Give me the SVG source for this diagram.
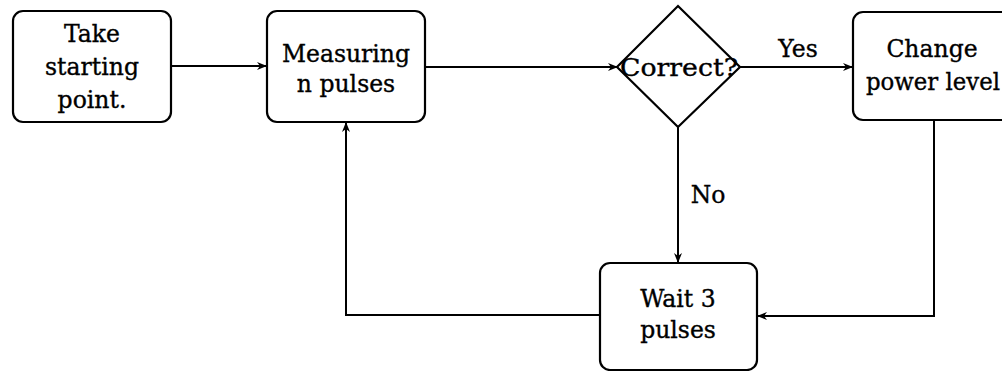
<svg xmlns="http://www.w3.org/2000/svg" width="1002" height="371" viewBox="0 0 1002 371">
<style>
.box{fill:#fff;stroke:#000;stroke-width:2.2}
.t{font-family:"DejaVu Serif","Liberation Serif",serif;font-size:23.5px;fill:#000;stroke:#000;stroke-width:0.35;text-anchor:middle}
.c{fill:none;stroke:#000;stroke-width:2}
</style>
<defs>
<marker id="ah" viewBox="0 0 10 10" refX="9" refY="5" markerWidth="5" markerHeight="5" orient="auto" markerUnits="strokeWidth">
<path d="M0,1 L10,5 L0,9 L3,5 Z" fill="#000"/>
</marker>
</defs>
<rect width="1002" height="371" fill="#fff"/>
<g id="connectors">
<line class="c" x1="171" y1="66" x2="266" y2="66" marker-end="url(#ah)"/>
<line class="c" x1="425" y1="67" x2="617" y2="67" marker-end="url(#ah)"/>
<line class="c" x1="740" y1="67" x2="852" y2="67" marker-end="url(#ah)"/>
<line class="c" x1="678" y1="127" x2="678" y2="262" marker-end="url(#ah)"/>
<polyline class="c" points="934,120 934,316 758,316" marker-end="url(#ah)"/>
<polyline class="c" points="600,315 346,315 346,123" marker-end="url(#ah)"/>
<text class="t" x="798" y="57">Yes</text>
<text class="t" x="708" y="203">No</text>
</g>
<g id="start">
<rect class="box" x="13" y="11" width="158" height="111" rx="10"/>
<text class="t" x="92" y="42">Take</text>
<text class="t" x="92" y="75">starting</text>
<text class="t" x="92" y="108">point.</text>
</g>
<g id="measure">
<rect class="box" x="267" y="11" width="158" height="111" rx="10"/>
<text class="t" x="346" y="62">Measuring</text>
<text class="t" x="346" y="92">n pulses</text>
</g>
<g id="correct">
<polygon class="box" points="678,6 740,67 678,127 617,67"/>
<text class="t" x="679" y="76" textLength="118" lengthAdjust="spacingAndGlyphs">Correct?</text>
</g>
<g id="change">
<rect class="box" x="853" y="12" width="162" height="108" rx="10"/>
<text class="t" x="932" y="57">Change</text>
<text class="t" x="933" y="90" textLength="134" lengthAdjust="spacingAndGlyphs">power level</text>
</g>
<g id="wait">
<rect class="box" x="600" y="263" width="157" height="107" rx="10"/>
<text class="t" x="678" y="307">Wait 3</text>
<text class="t" x="678" y="338">pulses</text>
</g>
</svg>
